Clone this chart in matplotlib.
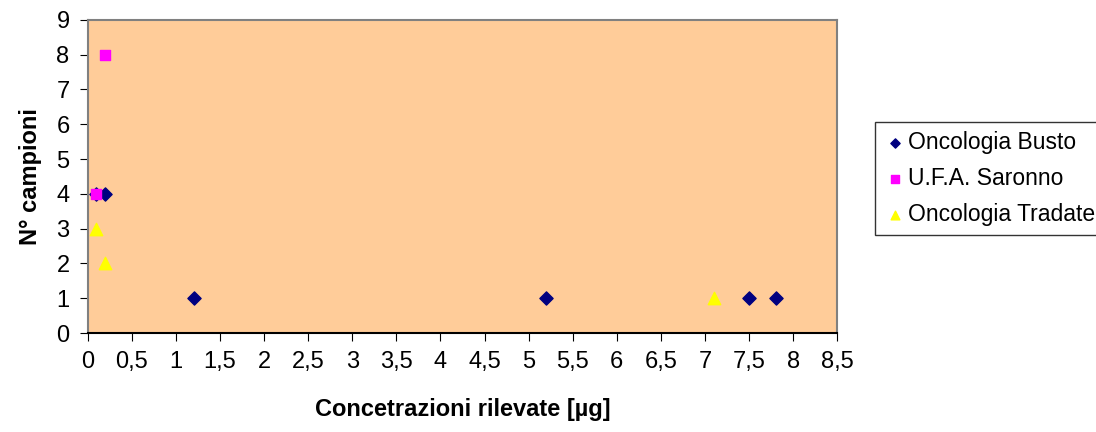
import matplotlib.pyplot as plt

plt.rcParams['font.family'] = ['Liberation Sans', 'DejaVu Sans']

# Oncologia Busto
busto_x = [0.1, 0.2, 1.2, 5.2, 7.5, 7.8]
busto_y = [4, 4, 1, 1, 1, 1]
# U.F.A. Saronno
saronno_x = [0.2, 0.1]
saronno_y = [8, 4]
# Oncologia Tradate
tradate_x = [0.1, 0.2, 7.1]
tradate_y = [3, 2, 1]

x_ticks = [i * 0.5 for i in range(18)]
x_labels = [('%g' % v).replace('.', ',') for v in x_ticks]

fig = plt.figure(figsize=(10.96, 4.32), dpi=100)
ax = fig.add_axes([0.080, 0.229, 0.684, 0.725])
ax.set_facecolor('#FFCC99')

ax.scatter(busto_x, busto_y, marker='D', s=45, color='#000080', label='Oncologia Busto', zorder=3)
ax.scatter(saronno_x, saronno_y, marker='s', s=60, color='#FF00FF', label='U.F.A. Saronno', zorder=4)
ax.scatter(tradate_x, tradate_y, marker='^', s=80, color='#FFFF00', label='Oncologia Tradate', zorder=3)

ax.set_xlim(0, 8.5)
ax.set_ylim(0, 9)
ax.set_xticks(x_ticks)
ax.set_xticklabels(x_labels)
ax.set_yticks(range(10))
ax.tick_params(labelsize=17, color='black', length=6, pad=7)
for s in ax.spines.values():
    s.set_color('#808080')
    s.set_linewidth(1.5)
ax.spines['bottom'].set_color('black')

ax.set_xlabel('Concetrazioni rilevate [µg]', fontsize=17, fontweight='bold', labelpad=18)
ax.set_ylabel('N° campioni', fontsize=17, fontweight='bold', labelpad=10)

leg = fig.legend(loc='upper left', bbox_to_anchor=(0.798, 0.717), fontsize=16.5,
                 frameon=True, fancybox=False, edgecolor='black', handletextpad=0.05,
                 handlelength=1.0, borderpad=0.4, labelspacing=0.55, markerscale=0.7,
                 borderaxespad=0)
leg.get_frame().set_linewidth(1.0)

fig.savefig('out.png', dpi=100)
